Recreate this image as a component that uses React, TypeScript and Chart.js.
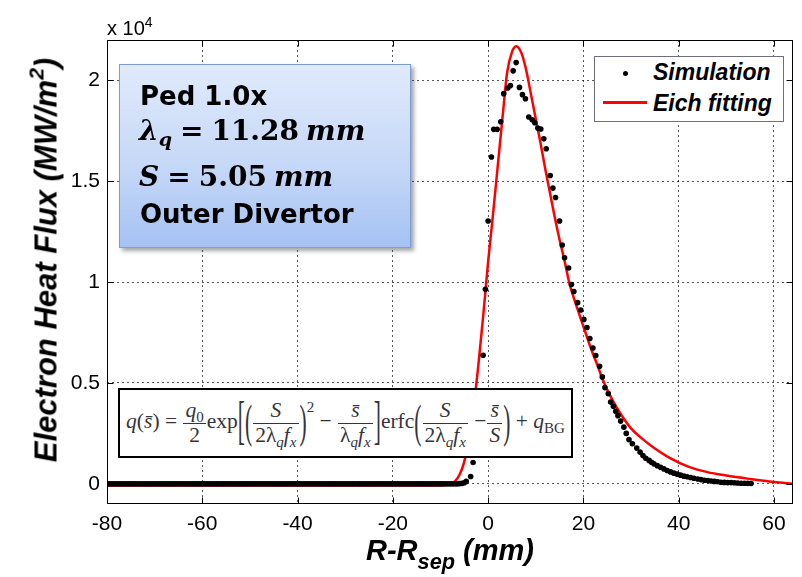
import React, { useEffect, useRef } from 'react';
import { Chart, registerables } from 'chart.js';
Chart.register(...registerables);

// ---------- data ----------
const xTicks = [-80, -60, -40, -20, 0, 20, 40, 60];
const xTickLabels = ['-80', '-60', '-40', '-20', '0', '20', '40', '60'];
const yTicks = [0, 5000, 10000, 15000, 20000];
const yTickLabels = ['0', '0.5', '1', '1.5', '2'];
const seriesNames = ['Simulation', 'Eich fitting'];

// Simulation: flat region inside the separatrix (mm)
const simFlatX = [
  -80, -79.5, -79, -78.5, -78, -77.5, -77, -76.5, -76, -75.5, -75, -74.5, -74, -73.5, -73, -72.5, -72, -71.5, -71, -70.5,
  -70, -69.5, -69, -68.5, -68, -67.5, -67, -66.5, -66, -65.5, -65, -64.5, -64, -63.5, -63, -62.5, -62, -61.5, -61, -60.5,
  -60, -59.5, -59, -58.5, -58, -57.5, -57, -56.5, -56, -55.5, -55, -54.5, -54, -53.5, -53, -52.5, -52, -51.5, -51, -50.5,
  -50, -49.5, -49, -48.5, -48, -47.5, -47, -46.5, -46, -45.5, -45, -44.5, -44, -43.5, -43, -42.5, -42, -41.5, -41, -40.5,
  -40, -39.5, -39, -38.5, -38, -37.5, -37, -36.5, -36, -35.5, -35, -34.5, -34, -33.5, -33, -32.5, -32, -31.5, -31, -30.5,
  -30, -29.5, -29, -28.5, -28, -27.5, -27, -26.5, -26, -25.5, -25, -24.5, -24, -23.5, -23, -22.5, -22, -21.5, -21, -20.5,
  -20, -19.5, -19, -18.5, -18, -17.5, -17, -16.5, -16, -15.5, -15, -14.5, -14, -13.5, -13, -12.5, -12, -11.5, -11, -10.5,
  -10, -9.5, -9, -8.5, -8, -7.5, -7, -6.5, -6,
];
const simFlatY = [
  0, 0, 0, 0, 0, 0, 0, 0, 0, 0, 0, 0, 0, 0, 0, 0, 0, 0, 0, 0,
  0, 0, 0, 0, 0, 0, 0, 0, 0, 0, 0, 0, 0, 0, 0, 0, 0, 0, 0, 0,
  0, 0, 0, 0, 0, 0, 0, 0, 0, 0, 0, 0, 0, 0, 0, 0, 0, 0, 0, 0,
  0, 0, 0, 0, 0, 0, 0, 0, 0, 0, 0, 0, 0, 0, 0, 0, 0, 0, 0, 0,
  0, 0, 0, 0, 0, 0, 0, 0, 0, 0, 0, 0, 0, 0, 0, 0, 0, 0, 0, 0,
  0, 0, 0, 0, 0, 0, 0, 0, 0, 0, 0, 0, 0, 0, 0, 0, 0, 0, 0, 0,
  0, 0, 0, 0, 0, 0, 0, 0, 0, 0, 0, 0, 0, 0, 0, 0, 0, 0, 0, 0,
  0, 0, 0, 0, 0, 0, 0, 0, 10,
];
// Simulation: peak and decay region
const simPeakX = [
  -5.5, -5.0, -4.6, -3.66, -3.15, -2.6, -2.05, -1.05, -0.57, 0.0, 0.7, 1.18, 1.89, 2.65, 3.28, 4.12,
  4.69, 5.26, 5.89, 6.58, 7.21, 7.84, 8.54, 9.25, 9.8, 10.43, 11.06, 11.69, 12.2, 13.04, 13.6, 14.15,
  15.0, 15.56, 16.05, 16.9, 17.5, 18.0, 18.8, 19.45, 20.1, 20.75, 21.35, 22.0, 22.6, 23.4, 23.97,
  24.52, 25.23, 25.72, 26.29, 26.8, 27.25, 27.82, 28.5, 29.0, 29.57, 30.28, 31.2, 31.9, 32.5, 33.1,
  33.8, 34.3, 34.8, 35.5, 36.2, 36.9, 37.6, 38.3, 39.0, 39.7, 40.4, 41.1, 41.8, 42.5, 43.2, 44.0,
  44.7, 45.4, 46.1, 46.8, 47.5, 48.2, 48.9, 49.6, 50.3, 51.0, 51.7, 52.4, 53.1, 53.8, 54.5, 55.2,
];
const simPeakY = [
  20, 50, 120, 360, 1060, 2300, 3700, 6370, 9640, 13030, 16200, 17570, 17570, 17950, 19340, 19620,
  19740, 20470, 20880, 19650, 19290, 19090, 18180, 18050, 17900, 17640, 17590, 17100, 16610, 15280, 14660, 14190,
  13030, 11840, 11210, 10700, 9880, 9530, 8980, 8620, 8150, 7750, 7200, 6730, 6360, 5830, 5300,
  4770, 4470, 4050, 3840, 3600, 3380, 3110, 2810, 2500, 2190, 1990, 1770, 1570, 1400, 1270,
  1160, 1070, 990, 900, 820, 740, 660, 590, 530, 480, 430, 380, 350, 310, 280, 240,
  210, 180, 160, 140, 120, 100, 80, 70, 60, 60, 50, 40, 30, 30, 20, 15,
];

// Eich fitting curve
const fitX = [
  -80, -12, -10, -9, -8, -7, -6, -5, -4, -3, -2, -1, 0, 1, 2, 3, 4, 5, 5.9, 7, 8, 9, 10, 11, 12,
  13, 14, 15, 16, 17, 18, 19, 20, 21, 22, 23, 24, 26, 28, 30, 32, 35, 38, 42, 46, 50, 55, 60, 64,
];
const fitY = [
  -85, -85, -80, -60, 0, 120, 450, 1100, 2350, 3900, 6000, 8400, 11000, 13300, 15700, 18100, 20400, 21400, 21690, 21350, 20500, 19300, 18100, 16900, 15600,
  14400, 13200, 12100, 11100, 10000, 9200, 8500, 7800, 7100, 6450, 5850, 5200, 4200, 3400, 2750, 2300, 1750, 1300, 850, 580, 410, 240, 90, 0,
];

const SANS = '"Liberation Sans", Arial, sans-serif';
const SERIF = '"Liberation Serif", "Times New Roman", serif';

// ---------- formula helpers ----------
const I = ({ children }: any) => <span style={{ fontStyle: 'italic' }}>{children}</span>;
const Sub = ({ children, it = true }: any) => (
  <span style={{ fontSize: '0.7em', verticalAlign: '-0.35em', fontStyle: it ? 'italic' : 'normal', lineHeight: 0 }}>{children}</span>
);
const Frac = ({ n, d }: any) => (
  <span style={{ display: 'inline-flex', flexDirection: 'column', alignItems: 'center', verticalAlign: 'middle', margin: '0 1px' }}>
    <span style={{ padding: '0 2px', lineHeight: 1.1 }}>{n}</span>
    <span style={{ padding: '0 2px', lineHeight: 1.1, borderTop: '1px solid #34343c', alignSelf: 'stretch', textAlign: 'center' }}>{d}</span>
  </span>
);
const Big = ({ ch, s = 2.5 }: any) => (
  <span style={{ display: 'inline-block', transform: `scaleY(${s})`, verticalAlign: 'middle', lineHeight: 1, fontWeight: 300 }}>{ch}</span>
);
const sbar = 's\u0304';
const Den = ({ two = false }: any) => (
  <span>{two ? '2' : ''}λ<Sub>q</Sub><I>f</I><Sub>x</Sub></span>
);

export default function App() {
  const ref = useRef<HTMLCanvasElement>(null);
  useEffect(() => {
    const framePlugin = {
      id: 'frame',
      afterDraw(chart: any) {
        const { ctx, chartArea: a, scales } = chart;
        const L = Math.round(a.left) + 0.5, R = Math.round(a.right) - 0.5;
        const T = Math.round(a.top) + 0.5, B = Math.round(a.bottom) - 0.5;
        ctx.save();
        ctx.strokeStyle = '#000';
        ctx.lineWidth = 1;
        ctx.setLineDash([]);
        ctx.strokeRect(L, T, R - L, B - T);
        const tl = 6;
        ctx.beginPath();
        xTicks.forEach((v) => {
          const p = Math.round(scales.x.getPixelForValue(v)) + 0.5;
          ctx.moveTo(p, B); ctx.lineTo(p, B - tl);
          ctx.moveTo(p, T); ctx.lineTo(p, T + tl);
        });
        yTicks.forEach((v) => {
          const p = Math.round(scales.y.getPixelForValue(v)) + 0.5;
          ctx.moveTo(L, p); ctx.lineTo(L + tl, p);
          ctx.moveTo(R, p); ctx.lineTo(R - tl, p);
        });
        ctx.stroke();
        ctx.restore();
      },
    };
    const simPoints = [
      ...simFlatX.map((x, i) => ({ x, y: simFlatY[i] })),
      ...simPeakX.map((x, i) => ({ x, y: simPeakY[i] })),
    ];
    const chart = new Chart(ref.current as HTMLCanvasElement, {
      type: 'scatter',
      data: {
        datasets: [
          {
            label: seriesNames[0],
            data: simPoints,
            pointRadius: 2.8,
            pointBackgroundColor: '#000',
            pointBorderWidth: 0,
            borderColor: '#000',
            showLine: false,
          },
          {
            label: seriesNames[1],
            data: fitX.map((x, i) => ({ x, y: fitY[i] })),
            showLine: true,
            pointRadius: 0,
            borderColor: '#ff0000',
            borderWidth: 2.5,
            cubicInterpolationMode: 'monotone',
          },
        ],
      } as any,
      options: {
        animation: false,
        responsive: false,
        devicePixelRatio: 1,
        layout: { padding: { top: 40, right: 9, left: 0, bottom: 0 } },
        plugins: { legend: { display: false }, tooltip: { enabled: false } },
        scales: {
          x: {
            type: 'linear',
            min: -80,
            max: 64,
            afterBuildTicks: (s: any) => { s.ticks = xTicks.map((v) => ({ value: v })); },
            afterFit: (s: any) => { s.height = 73; },
            ticks: {
              callback: (v: any) => xTickLabels[xTicks.indexOf(Number(v))] ?? '',
              font: { family: SANS, size: 21 },
              color: '#000',
              padding: 8,
              maxRotation: 0,
              autoSkip: false,
            },
            grid: { color: 'rgba(0,0,0,0.65)', lineWidth: 1, drawTicks: false },
            border: { display: false, dash: [2, 3] },
          },
          y: {
            type: 'linear',
            min: -1000,
            max: 22000,
            afterBuildTicks: (s: any) => { s.ticks = yTicks.map((v) => ({ value: v })); },
            afterFit: (s: any) => { s.width = 107; },
            ticks: {
              callback: (v: any) => yTickLabels[yTicks.indexOf(Number(v))] ?? '',
              font: { family: SANS, size: 21 },
              color: '#000',
              padding: 7,
              autoSkip: false,
            },
            grid: { color: 'rgba(0,0,0,0.65)', lineWidth: 1, drawTicks: false },
            border: { display: false, dash: [2, 3] },
          },
        },
      } as any,
      plugins: [framePlugin],
    });
    return () => chart.destroy();
  }, []);

  return (
    <div style={{ position: 'fixed', left: 0, top: 0, width: 802, height: 577, background: '#fff', overflow: 'hidden' }}>
      <canvas ref={ref} width={802} height={577} style={{ display: 'block', width: 802, height: 577 }} />

      {/* exponent label */}
      <div style={{ position: 'absolute', left: 107, top: 18, font: `20px ${SANS}`, lineHeight: '20px', whiteSpace: 'nowrap' }}>
        x 10<span style={{ fontSize: 14, verticalAlign: '0.55em', lineHeight: 0 }}>4</span>
      </div>

      {/* y title */}
      <div style={{ position: 'absolute', left: 46, top: 260, transform: 'translate(-50%,-50%) rotate(-90deg)', font: `italic bold 31px ${SANS}`, lineHeight: '31px', whiteSpace: 'nowrap' }}>
        Electron Heat Flux (MW/m<span style={{ fontSize: '0.68em', verticalAlign: '0.6em', lineHeight: 0 }}>2</span>)
      </div>

      {/* x title */}
      <div style={{ position: 'absolute', left: 450, top: 536, transform: 'translateX(-50%)', font: `italic bold 29px ${SANS}`, lineHeight: '29px', whiteSpace: 'nowrap' }}>
        R-R<span style={{ fontSize: '0.75em', verticalAlign: '-0.4em', lineHeight: 0 }}>sep</span> (mm)
      </div>

      {/* legend */}
      <div style={{ position: 'absolute', left: 594, top: 56, width: 188, height: 64, border: '1px solid #6e6e82', background: '#fff' }} />
      <div style={{ position: 'absolute', left: 622.5, top: 71, width: 5, height: 5, borderRadius: '50%', background: '#000' }} />
      <div style={{ position: 'absolute', left: 603, top: 101, width: 44, height: 2.5, background: '#ff0000' }} />
      <div style={{ position: 'absolute', left: 653, top: 61, font: `italic bold 23px ${SANS}`, lineHeight: '23px', whiteSpace: 'nowrap' }}>{seriesNames[0]}</div>
      <div style={{ position: 'absolute', left: 653, top: 92, font: `italic bold 23px ${SANS}`, lineHeight: '23px', whiteSpace: 'nowrap' }}>{seriesNames[1]}</div>

      {/* info box */}
      <div style={{ position: 'absolute', left: 119, top: 64, width: 290, height: 182, border: '1.5px solid #7a9dd6', background: 'linear-gradient(to bottom, #e0eafb 0%, #c6d8f7 55%, #a5c2f3 100%)', boxShadow: '3px 3px 4px rgba(0,0,0,0.35)' }} />
      <div style={{ position: 'absolute', left: 140, top: 83, font: `bold 26px "DejaVu Sans", sans-serif`, lineHeight: '26px', whiteSpace: 'nowrap' }}>Ped 1.0x</div>
      <div style={{ position: 'absolute', left: 139, top: 117, font: `bold 28px "DejaVu Serif", serif`, lineHeight: '28px', whiteSpace: 'nowrap' }}>
        <span style={{ fontStyle: 'italic' }}>λ</span><span style={{ fontStyle: 'italic', fontSize: 19, verticalAlign: '-0.3em', lineHeight: 0 }}>q</span>
        <span style={{ margin: '0 8px' }}>=</span>11.28<span style={{ fontStyle: 'italic', marginLeft: 7 }}>mm</span>
      </div>
      <div style={{ position: 'absolute', left: 139, top: 163, font: `bold 28px "DejaVu Serif", serif`, lineHeight: '28px', whiteSpace: 'nowrap' }}>
        <span style={{ fontStyle: 'italic' }}>S</span>
        <span style={{ margin: '0 8px' }}>=</span>5.05<span style={{ fontStyle: 'italic', marginLeft: 7 }}>mm</span>
      </div>
      <div style={{ position: 'absolute', left: 140, top: 201, font: `bold 26px "DejaVu Sans", sans-serif`, lineHeight: '26px', whiteSpace: 'nowrap' }}>Outer Divertor</div>

      {/* formula box */}
      <div style={{ position: 'absolute', left: 118, top: 388, width: 451, height: 66, border: '2px solid #000', background: '#fff', display: 'flex', alignItems: 'center', justifyContent: 'center', font: `21.5px ${SERIF}`, color: '#34343c', whiteSpace: 'nowrap' }}>
        <span>
          <I>q</I>({<I>{sbar}</I>}) =&nbsp;
          <Frac n={<span><I>q</I><Sub it={false}>0</Sub></span>} d="2" />
          exp<Big ch="[" s={2.5} /><Big ch="(" s={2.2} />
          <Frac n={<I>S</I>} d={<Den two />} />
          <Big ch=")" s={2.2} /><span style={{ fontSize: '0.7em', verticalAlign: '1.1em', lineHeight: 0 }}>2</span>
          &nbsp;−&nbsp;
          <Frac n={<I>{sbar}</I>} d={<Den />} />
          <Big ch="]" s={2.5} />erfc<Big ch="(" s={2.2} />
          <Frac n={<I>S</I>} d={<Den two />} />
          &nbsp;−
          <Frac n={<I>{sbar}</I>} d={<I>S</I>} />
          <Big ch=")" s={2.2} />&nbsp;+&nbsp;<I>q</I><Sub it={false}>BG</Sub>
        </span>
      </div>
    </div>
  );
}
